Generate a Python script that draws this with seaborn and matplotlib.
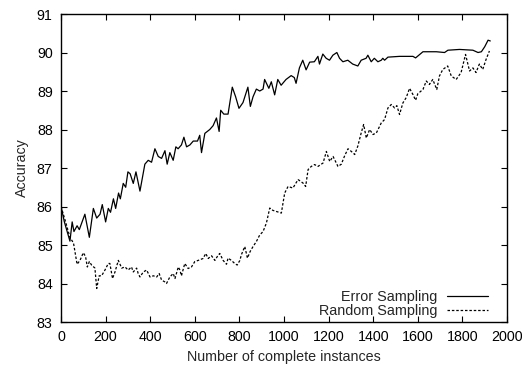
"""Accuracy vs number of complete instances: error vs random sampling."""
import matplotlib
matplotlib.use("Agg")
import matplotlib.pyplot as plt
import pandas as pd
import seaborn as sns

ERR_X = [0, 15, 40, 50, 58, 72, 82, 107, 127, 145, 160, 175, 185, 200, 212, 222, 235, 245,
         258, 266, 279, 290, 300, 310, 324, 336, 354, 376, 391, 406, 421, 436, 451, 466,
         476, 488, 503, 515, 525, 540, 551, 563, 578, 593, 612, 622, 630, 645, 667, 682,
         697, 709, 716, 730, 749, 768, 783, 798, 816, 838, 849, 861, 876, 891, 906, 913,
         932, 943, 958, 972, 987, 1009, 1032, 1046, 1054, 1069, 1084, 1099, 1115, 1136,
         1152, 1159, 1174, 1189, 1204, 1219, 1237, 1249, 1264, 1286, 1308, 1331, 1346,
         1368, 1376, 1391, 1405, 1421, 1436, 1443, 1451, 1466, 1518, 1578, 1590, 1623,
         1683, 1720, 1735, 1787, 1847, 1870, 1885, 1900, 1915, 1925]
ERR_Y = [86.0, 85.6, 85.1, 85.6, 85.35, 85.5, 85.4, 85.8, 85.2, 85.95, 85.7, 85.8, 86.05,
         85.6, 85.95, 85.85, 86.2, 85.95, 86.35, 86.2, 86.6, 86.5, 86.9, 86.85, 86.6, 86.9,
         86.4, 87.1, 87.2, 87.15, 87.5, 87.3, 87.25, 87.45, 87.1, 87.4, 87.2, 87.55, 87.5,
         87.6, 87.8, 87.55, 87.6, 87.7, 87.7, 87.85, 87.4, 87.9, 88.0, 88.1, 88.3, 87.95,
         88.5, 88.4, 88.4, 89.1, 88.85, 88.55, 88.7, 89.1, 88.6, 88.85, 89.05, 89.0, 89.05,
         89.3, 89.07, 89.24, 88.9, 89.3, 89.15, 89.3, 89.4, 89.35, 89.2, 89.6, 89.8, 89.55,
         89.75, 89.76, 89.9, 89.7, 89.96, 89.85, 89.8, 89.93, 90.0, 89.85, 89.76, 89.8,
         89.7, 89.65, 89.8, 89.85, 89.93, 89.76, 89.85, 89.76, 89.8, 89.85, 89.8, 89.88,
         89.9, 89.9, 89.86, 90.02, 90.02, 90.0, 90.06, 90.08, 90.06, 90.0, 90.02, 90.15,
         90.32, 90.3]

RND_X = [0, 18, 40, 56, 72, 85, 100, 110, 118, 127, 137, 152, 160, 171, 182, 197, 212, 219,
         231, 242, 257, 272, 287, 301, 316, 324, 339, 346, 354, 369, 384, 399, 414, 429,
         440, 451, 466, 473, 488, 503, 511, 526, 533, 540, 555, 570, 585, 600, 615, 637,
         649, 660, 675, 690, 705, 712, 727, 742, 749, 764, 779, 790, 802, 809, 824, 836,
         848, 861, 876, 891, 906, 921, 936, 950, 966, 988, 1003, 1018, 1040, 1063, 1085,
         1097, 1108, 1122, 1137, 1152, 1175, 1190, 1205, 1220, 1242, 1257, 1272, 1287,
         1302, 1317, 1331, 1346, 1357, 1369, 1384, 1399, 1414, 1436, 1451, 1466, 1481,
         1496, 1506, 1518, 1533, 1548, 1563, 1578, 1590, 1600, 1623, 1638, 1652, 1667,
         1685, 1697, 1712, 1734, 1750, 1772, 1794, 1814, 1832, 1847, 1861, 1876, 1891,
         1906, 1921]
RND_Y = [86.0, 85.65, 85.2, 85.05, 84.5, 84.6, 84.8, 84.7, 84.43, 84.57, 84.48, 84.4, 83.87,
         84.2, 84.2, 84.35, 84.52, 84.52, 84.13, 84.3, 84.6, 84.4, 84.43, 84.35, 84.43, 84.3,
         84.4, 84.26, 84.17, 84.3, 84.35, 84.17, 84.2, 84.17, 84.26, 84.09, 84.04, 84.0,
         84.17, 84.26, 84.13, 84.43, 84.35, 84.2, 84.52, 84.39, 84.43, 84.57, 84.6, 84.65,
         84.78, 84.65, 84.72, 84.6, 84.74, 84.78, 84.6, 84.5, 84.66, 84.6, 84.52, 84.48,
         84.6, 84.75, 84.96, 84.66, 84.83, 84.96, 85.09, 85.26, 85.35, 85.57, 85.96, 85.9,
         85.87, 85.83, 86.35, 86.52, 86.48, 86.7, 86.61, 86.52, 86.96, 87.04, 87.09, 87.04,
         87.13, 87.43, 87.17, 87.3, 87.04, 87.1, 87.32, 87.5, 87.43, 87.35, 87.57, 87.91,
         88.13, 87.78, 88.0, 87.87, 87.91, 88.17, 88.26, 88.56, 88.65, 88.56, 88.62, 88.39,
         88.69, 88.83, 89.07, 88.91, 88.76, 88.93, 89.04, 89.26, 89.17, 89.3, 89.04, 89.39,
         89.56, 89.65, 89.39, 89.3, 89.48, 89.95, 89.52, 89.6, 89.48, 89.7, 89.56, 89.82,
         90.04]

X_TICKS = list(range(0, 2001, 200))
Y_TICKS = list(range(83, 92))


def main() -> None:
    sns.set_style("ticks")
    plt.rcParams["font.family"] = ["Liberation Sans", "DejaVu Sans"]

    err = pd.DataFrame({"n": ERR_X, "acc": ERR_Y})
    rnd = pd.DataFrame({"n": RND_X, "acc": RND_Y})

    fig = plt.figure(figsize=(5.22, 3.66), dpi=100)
    ax = fig.add_axes([0.1169, 0.1202, 0.8544, 0.8415])
    sns.lineplot(data=err, x="n", y="acc", ax=ax, color="black", linewidth=0.9,
                 sort=False, label="Error Sampling")
    sns.lineplot(data=rnd, x="n", y="acc", ax=ax, color="black", linewidth=0.9,
                 sort=False, linestyle=(0, (2.0, 1.5)), label="Random Sampling")

    ax.set_xlim(0, 2000)
    ax.set_ylim(83, 91)
    ax.set_xticks(X_TICKS)
    ax.set_yticks(Y_TICKS)
    ax.tick_params(direction="in", length=4.5, width=0.8, labelsize=10.3, colors="black",
                   top=True, right=True, pad=6)
    for sp in ax.spines.values():
        sp.set_linewidth(1.0)
        sp.set_color("black")
    ax.set_xlabel("Number of complete instances", fontsize=10.3, labelpad=4)
    ax.set_ylabel("Accuracy", fontsize=10.3, labelpad=6)

    ax.legend(loc="lower right", frameon=False, markerfirst=False, fontsize=10.4,
              handlelength=2.8, handletextpad=0.7, labelspacing=0.02,
              borderaxespad=0.2, bbox_to_anchor=(0.976, -0.016))

    fig.savefig("out.png", dpi=100)
    plt.close(fig)


if __name__ == "__main__":
    main()
